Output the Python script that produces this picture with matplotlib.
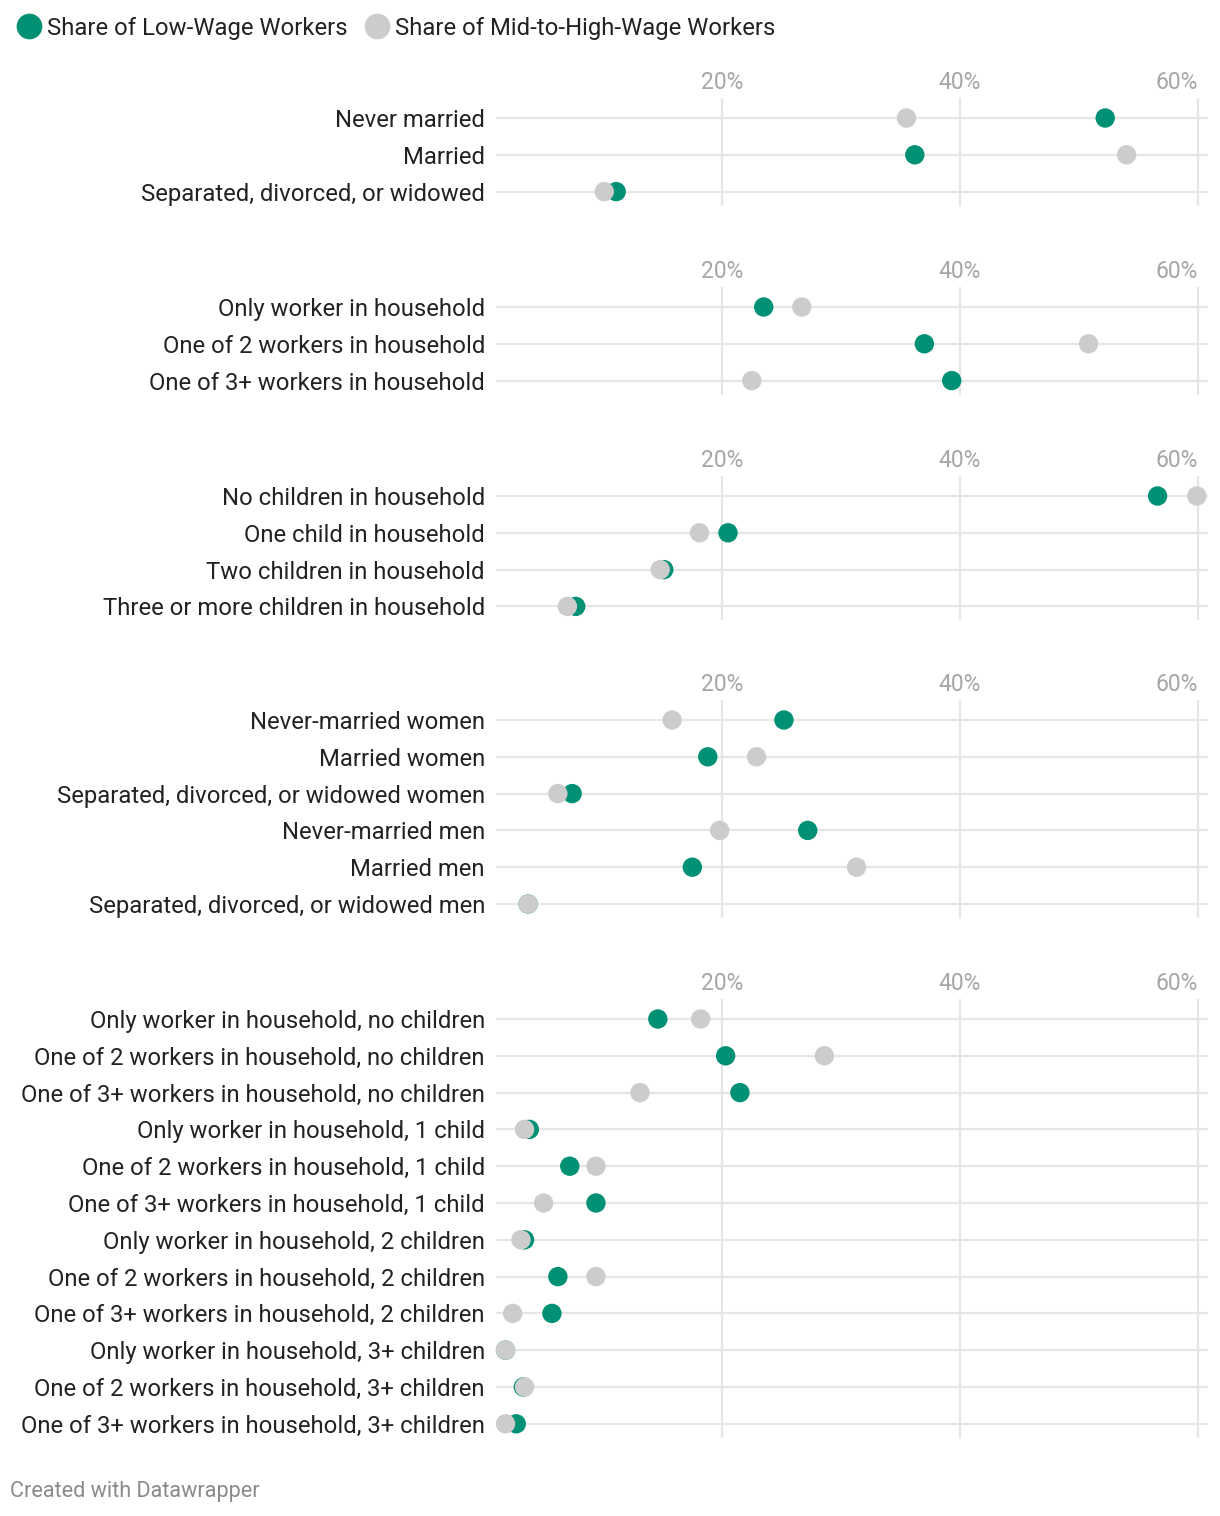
import matplotlib.pyplot as plt
from matplotlib.lines import Line2D

plt.rcParams["font.family"] = ["Roboto", "DejaVu Sans"]

GREEN = "#009174"
GRAY = "#cccccc"
GRID = "#e6e6e6"
TEXT = "#222222"
TICK = "#a6a6a6"

# data (percent shares)
marital_labels = ["Never married", "Married", "Separated, divorced, or widowed"]
marital_low = [52.2, 36.2, 11.1]
marital_mid = [35.5, 54.0, 10.1]

workers_labels = ["Only worker in household", "One of 2 workers in household",
                  "One of 3+ workers in household"]
workers_low = [23.5, 37.0, 39.3]
workers_mid = [26.7, 50.8, 22.5]

children_labels = ["No children in household", "One child in household",
                   "Two children in household", "Three or more children in household"]
children_low = [56.6, 20.5, 15.1, 7.7]
children_mid = [59.9, 18.1, 14.8, 7.0]

sex_labels = ["Never-married women", "Married women",
              "Separated, divorced, or widowed women", "Never-married men",
              "Married men", "Separated, divorced, or widowed men"]
sex_low = [25.2, 18.8, 7.4, 27.2, 17.5, 3.7]
sex_mid = [15.8, 22.9, 6.2, 19.8, 31.3, 3.7]

combo_labels = ["Only worker in household, no children",
                "One of 2 workers in household, no children",
                "One of 3+ workers in household, no children",
                "Only worker in household, 1 child",
                "One of 2 workers in household, 1 child",
                "One of 3+ workers in household, 1 child",
                "Only worker in household, 2 children",
                "One of 2 workers in household, 2 children",
                "One of 3+ workers in household, 2 children",
                "Only worker in household, 3+ children",
                "One of 2 workers in household, 3+ children",
                "One of 3+ workers in household, 3+ children"]
combo_low = [14.6, 20.3, 21.5, 3.8, 7.2, 9.4, 3.4, 6.2, 5.7, 1.8, 3.3, 2.7]
combo_mid = [18.2, 28.6, 13.1, 3.4, 9.4, 5.0, 3.1, 9.4, 2.4, 1.8, 3.4, 1.8]

x_ticks = [20, 40, 60]
x_tick_labels = ["20%", "40%", "60%"]

panels = [
    (marital_labels, marital_low, marital_mid, 118),
    (workers_labels, workers_low, workers_mid, 307),
    (children_labels, children_low, children_mid, 496),
    (sex_labels, sex_low, sex_mid, 720),
    (combo_labels, combo_low, combo_mid, 1019),
]

W, H = 1220, 1516
fig = plt.figure(figsize=(W / 100, H / 100), dpi=100)

ROW = 36.8
LEFT, RIGHT = 496, 1208
for labels, low, mid, y0 in panels:
    n = len(labels)
    top = y0 - 20
    bottom = y0 + (n - 1) * ROW + 14
    ax = fig.add_axes([LEFT / W, 1 - bottom / H, (RIGHT - LEFT) / W, (bottom - top) / H])
    rows = list(range(n))
    ax.set_xlim(1.0, 60.84)
    ax.set_ylim((n - 1) + 14 / ROW, -20 / ROW)
    for r in rows:
        ax.axhline(r, color=GRID, lw=1.6, zorder=1)
    for t in x_ticks:
        ax.axvline(t, color=GRID, lw=1.6, zorder=1)
    ax.scatter(low, rows, s=195, color=GREEN, edgecolors="none", zorder=3, clip_on=False)
    ax.scatter(mid, rows, s=195, color=GRAY, edgecolors="none", zorder=4, clip_on=False)
    ax.set_yticks(rows)
    ax.set_yticklabels(labels, fontsize=17.2, color=TEXT)
    ax.set_xticks(x_ticks)
    ax.set_xticklabels(x_tick_labels, fontsize=16.5, color=TICK)
    ax.xaxis.tick_top()
    ax.tick_params(axis="x", length=0, pad=3)
    ax.tick_params(axis="y", length=0, pad=8)
    ax.get_xticklabels()[-1].set_horizontalalignment("right")
    for s in ax.spines.values():
        s.set_visible(False)

handles = [
    Line2D([], [], marker="o", ls="none", markersize=18.5, markerfacecolor=GREEN,
           markeredgewidth=0, label="Share of Low-Wage Workers"),
    Line2D([], [], marker="o", ls="none", markersize=18.5, markerfacecolor=GRAY,
           markeredgewidth=0, label="Share of Mid-to-High-Wage Workers"),
]
fig.legend(handles=handles, loc="upper left", bbox_to_anchor=(0.0, 1.0), ncol=2,
           frameon=False, fontsize=17.2, handletextpad=0.25, columnspacing=0.75,
           handlelength=1.0, borderaxespad=0.3, labelcolor=TEXT)

fig.text(10 / W, 1 - 1491 / H, "Created with Datawrapper", fontsize=15.6,
         color="#8a8a8a", va="center", ha="left")

fig.savefig("out.png", dpi=100, facecolor="white")
